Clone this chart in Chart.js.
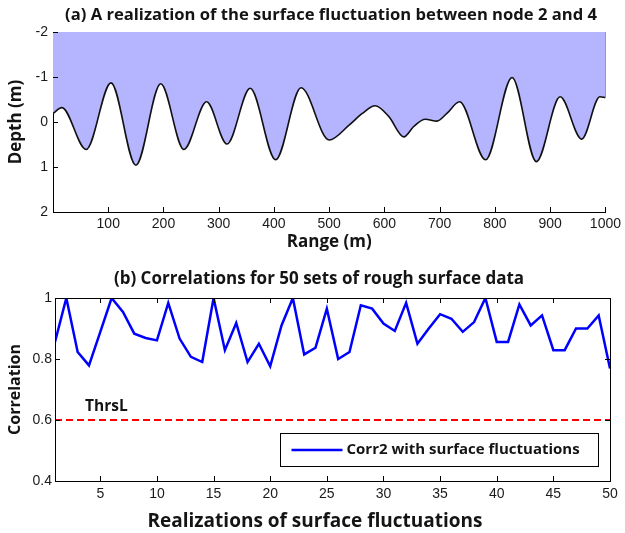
<!DOCTYPE html>
<html>
<head>
<meta charset="utf-8">
<script src="https://cdn.jsdelivr.net/npm/chart.js@4/dist/chart.umd.min.js"></script>
<style>
  body { margin: 0; background: #fff; }
  #wrap { position: relative; width: 625px; height: 533px; }
  canvas { position: absolute; left: 0; }
  #surf { top: 0; }
  #corr { top: 260px; }
</style>
</head>
<body>
<div id="wrap">
  <canvas id="surf" width="625" height="260" style="width:625px;height:260px"></canvas>
  <canvas id="corr" width="625" height="273" style="width:625px;height:273px"></canvas>
</div>
<script>
// (a) surface profile between node 2 and 4
var rangeM = [0, 16, 60, 105, 150, 195, 237, 278, 315, 357, 403, 449, 500, 536, 560, 583, 608,
  635, 653, 674, 695, 713, 736, 783, 831, 875, 918, 957, 990, 1000];
var depthM = [-0.19, -0.32, 0.61, -0.87, 0.96, -0.85, 0.61, -0.45, 0.49, -0.75, 0.84, -0.76, 0.40,
  0.07, -0.19, -0.36, -0.12, 0.33, 0.10, -0.06, -0.02, -0.19, -0.45, 0.84, -0.99, 0.88, -0.56,
  0.38, -0.56, -0.54];
var rangeTicks = [100, 200, 300, 400, 500, 600, 700, 800, 900, 1000];
var depthTicks = [-2, -1, 0, 1, 2];

// (b) correlations for 50 realizations
var realization = [1, 2, 3, 4, 5, 6, 7, 8, 9, 10, 11, 12, 13, 14, 15, 16, 17, 18, 19, 20, 21, 22, 23, 24, 25,
  26, 27, 28, 29, 30, 31, 32, 33, 34, 35, 36, 37, 38, 39, 40, 41, 42, 43, 44, 45, 46, 47, 48, 49, 50];
var corr2 = [0.856, 1.0, 0.823, 0.779, 0.889, 1.0, 0.954, 0.883, 0.869, 0.861,
  0.984, 0.867, 0.807, 0.79, 1.0, 0.829, 0.918, 0.79, 0.85, 0.776,
  0.91, 1.0, 0.815, 0.837, 0.965, 0.80, 0.823, 0.976, 0.965, 0.916,
  0.892, 0.984, 0.85, 0.90, 0.947, 0.932, 0.889, 0.921, 1.0, 0.856,
  0.856, 0.979, 0.91, 0.943, 0.829, 0.829, 0.90, 0.90, 0.943, 0.769];
var thrsL = 0.6;
var realTicks = [5, 10, 15, 20, 25, 30, 35, 40, 45, 50];
var corrTicks = [0.4, 0.6, 0.8, 1];

var tickFont = { family: 'Liberation Sans, Arial, sans-serif', size: 14 };
var boldFam = 'Open Sans, Noto Sans, sans-serif';

function fixTicks(list) {
  return function (scale) {
    scale.ticks = list.map(function (v) { return { value: v }; });
  };
}
function plainLabel(v) { return String(v); }

// matlab style ticks pointing into the axes
var innerTicks = {
  id: 'innerTicks',
  afterDraw: function (chart, args, opts) {
    var ctx = chart.ctx, a = chart.chartArea, len = 5;
    var xs = chart.scales.x, ys = chart.scales.y;
    ctx.save();
    ctx.strokeStyle = '#000';
    ctx.lineWidth = 1;
    ctx.beginPath();
    xs.ticks.forEach(function (t) {
      var px = Math.round(xs.getPixelForValue(t.value)) + 0.5;
      ctx.moveTo(px, a.bottom); ctx.lineTo(px, a.bottom - len);
      if (opts.box) { ctx.moveTo(px, a.top); ctx.lineTo(px, a.top + len); }
    });
    ys.ticks.forEach(function (t) {
      var py = Math.round(ys.getPixelForValue(t.value)) + 0.5;
      ctx.moveTo(a.left, py); ctx.lineTo(a.left + len, py);
      if (opts.box) { ctx.moveTo(a.right, py); ctx.lineTo(a.right - len, py); }
    });
    ctx.stroke();
    if (opts.box) {
      ctx.strokeRect(Math.round(a.left) + 0.5, Math.round(a.top) + 0.5,
        Math.round(a.right - a.left), Math.round(a.bottom - a.top));
    }
    ctx.restore();
  }
};

// free text: titles and annotations
var figText = {
  id: 'figText',
  afterDraw: function (chart, args, opts) {
    var ctx = chart.ctx;
    (opts.items || []).forEach(function (it) {
      ctx.save();
      ctx.font = 'bold ' + it.size + 'px ' + boldFam;
      ctx.fillStyle = '#141414';
      ctx.textAlign = it.align || 'center';
      ctx.textBaseline = 'middle';
      var x = typeof it.x === 'function' ? it.x(chart) : it.x;
      var y = typeof it.y === 'function' ? it.y(chart) : it.y;
      ctx.fillText(it.text, x, y);
      ctx.restore();
    });
  }
};

var legendBox = {
  id: 'legendBox',
  afterDraw: function (chart, args, opts) {
    if (!opts.text) return;
    var ctx = chart.ctx, a = chart.chartArea;
    var w = 318, h = 33;
    var x0 = Math.round(a.right - 12 - w) + 0.5, y0 = Math.round(a.bottom - 15 - h) + 0.5;
    ctx.save();
    ctx.fillStyle = '#fff';
    ctx.fillRect(x0, y0, w, h);
    ctx.strokeStyle = '#000';
    ctx.lineWidth = 1;
    ctx.strokeRect(x0, y0, w, h);
    ctx.strokeStyle = opts.color;
    ctx.lineWidth = 2.5;
    ctx.beginPath();
    ctx.moveTo(x0 + 11, y0 + h / 2);
    ctx.lineTo(x0 + 62, y0 + h / 2);
    ctx.stroke();
    ctx.font = 'bold 15px ' + boldFam;
    ctx.fillStyle = '#141414';
    ctx.textBaseline = 'middle';
    ctx.fillText(opts.text, x0 + 66, y0 + h / 2);
    ctx.restore();
  }
};

window.addEventListener('load', function () {
  var surfPts = rangeM.map(function (r, i) { return { x: r, y: depthM[i] }; });
  var lastDepth = depthM[depthM.length - 1];

  new Chart(document.getElementById('surf'), {
    type: 'line',
    data: {
      datasets: [
        {
          label: 'surface',
          data: surfPts,
          borderColor: '#111',
          borderWidth: 1.6,
          backgroundColor: 'rgb(180,180,255)',
          fill: { value: depthTicks[0] },
          pointRadius: 0,
          cubicInterpolationMode: 'monotone'
        },
        {
          label: 'edge',
          data: [{ x: rangeM[rangeM.length - 1], y: depthTicks[0] }, { x: rangeM[rangeM.length - 1], y: lastDepth }],
          borderColor: '#111',
          borderWidth: 1.6,
          pointRadius: 0,
          fill: false
        }
      ]
    },
    plugins: [innerTicks, figText],
    options: {
      responsive: false,
      animation: false,
      layout: { padding: { left: 0, right: 18, top: 32, bottom: 0 } },
      scales: {
        x: {
          type: 'linear', min: 0, max: 1000,
          afterBuildTicks: fixTicks(rangeTicks),
          grid: { display: false, drawTicks: false },
          border: { display: true, color: '#000', width: 1 },
          ticks: { font: tickFont, color: '#1a1a1a', padding: 4, maxRotation: 0, autoSkip: false, callback: plainLabel },
          title: { display: true, text: 'Range (m)', color: '#141414',
            font: { family: boldFam, weight: 'bold', size: 17 }, padding: { top: 0, bottom: 8 } },
          afterFit: function (s) { s.height = 48; }
        },
        y: {
          type: 'linear', min: -2, max: 2, reverse: true,
          afterBuildTicks: fixTicks(depthTicks),
          grid: { display: false, drawTicks: false },
          border: { display: true, color: '#000', width: 1 },
          ticks: { font: tickFont, color: '#1a1a1a', padding: 5, autoSkip: false, callback: plainLabel },
          title: { display: true, text: 'Depth (m)', color: '#141414',
            font: { family: boldFam, weight: 'bold', size: 17 }, padding: { top: 6, bottom: 0 } },
          afterFit: function (s) { s.width = 53; }
        }
      },
      plugins: {
        legend: { display: false },
        tooltip: { enabled: false },
        innerTicks: { box: false },
        figText: { items: [
          { text: '(a) A realization of the surface fluctuation between node 2 and 4', size: 16.6, x: 331, y: 15 }
        ] }
      }
    }
  });

  var corrPts = realization.map(function (r, i) { return { x: r, y: corr2[i] }; });

  new Chart(document.getElementById('corr'), {
    type: 'line',
    data: {
      datasets: [
        {
          label: 'Corr2 with surface fluctuations',
          data: corrPts,
          borderColor: 'rgb(0,0,255)',
          borderWidth: 2.5,
          pointRadius: 0,
          tension: 0,
          fill: false
        },
        {
          label: 'ThrsL',
          data: [{ x: realization[0], y: thrsL }, { x: realization[realization.length - 1], y: thrsL }],
          borderColor: 'rgb(255,0,0)',
          borderWidth: 2,
          borderDash: [7, 4],
          pointRadius: 0,
          fill: false
        }
      ]
    },
    plugins: [innerTicks, figText, legendBox],
    options: {
      responsive: false,
      animation: false,
      layout: { padding: { left: 0, right: 15, top: 38, bottom: 0 } },
      scales: {
        x: {
          type: 'linear', min: 1, max: 50,
          afterBuildTicks: fixTicks(realTicks),
          grid: { display: false, drawTicks: false },
          border: { display: true, color: '#000', width: 1 },
          ticks: { font: tickFont, color: '#1a1a1a', padding: 5, maxRotation: 0, autoSkip: false, callback: plainLabel },
          afterFit: function (s) { s.height = 52; }
        },
        y: {
          type: 'linear', min: 0.4, max: 1,
          afterBuildTicks: fixTicks(corrTicks),
          grid: { display: false, drawTicks: false },
          border: { display: true, color: '#000', width: 1 },
          ticks: { font: tickFont, color: '#1a1a1a', padding: 3, autoSkip: false, callback: plainLabel },
          title: { display: true, text: 'Correlation', color: '#141414',
            font: { family: boldFam, weight: 'bold', size: 16 }, padding: { top: 6, bottom: 0 } },
          afterFit: function (s) { s.width = 55; }
        }
      },
      plugins: {
        legend: { display: false },
        tooltip: { enabled: false },
        innerTicks: { box: true },
        legendBox: { text: 'Corr2 with surface fluctuations', color: 'rgb(0,0,255)' },
        figText: { items: [
          { text: '(b) Correlations for 50 sets of rough surface data', size: 17, x: 319, y: 19 },
          { text: 'Realizations of surface fluctuations', size: 19, x: 315, y: 262 },
          { text: 'ThrsL', size: 15.5, align: 'left',
            x: function (c) { return c.chartArea.left + 30; },
            y: function (c) { return c.scales.y.getPixelForValue(thrsL) - 13; } }
        ] }
      }
    }
  });
});
</script>
</body>
</html>
